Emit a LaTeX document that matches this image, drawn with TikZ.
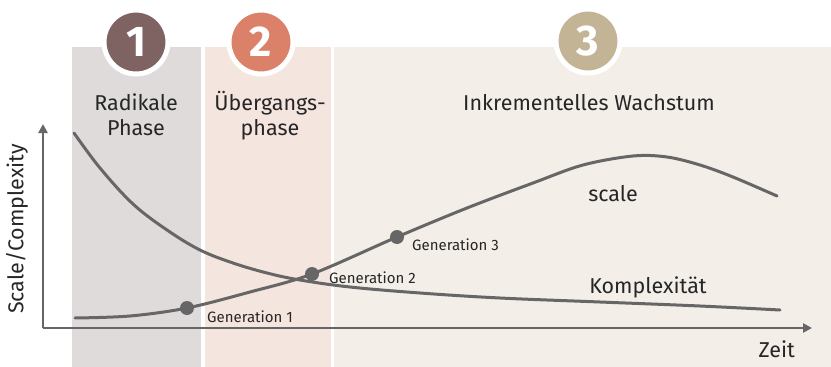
\documentclass[tikz,border=0pt]{standalone}
\usepackage{fontspec}
\setmainfont{Fira Sans}
\usetikzlibrary{arrows.meta}
\definecolor{bandA}{HTML}{E0DBDB}
\definecolor{bandB}{HTML}{F5E5DF}
\definecolor{bandC}{HTML}{F3EEE7}
\definecolor{circA}{HTML}{7F6262}
\definecolor{circB}{HTML}{DB816A}
\definecolor{circC}{HTML}{C4B496}
\definecolor{lineg}{HTML}{666666}
\definecolor{txt}{HTML}{262626}
\tikzset{
  numcirc/.style={circle, minimum size=64pt, inner sep=0pt, draw=white, line width=5pt, text=white, font=\fontsize{43}{43}\selectfont\bfseries},
  head/.style={text=txt, font=\fontsize{21.5}{25}\selectfont, align=center, inner sep=0pt},
  lbl/.style={text=txt, font=\fontsize{21.5}{24}\selectfont, inner sep=0pt},
  genlbl/.style={text=txt, font=\fontsize{15}{17}\selectfont, inner sep=0pt, anchor=west},
  curve/.style={draw=lineg, line width=3pt, line cap=round},
  axis/.style={draw=lineg, line width=2.6pt, -{Triangle[length=9pt,width=9pt]}},
  dot/.style={circle, fill=lineg, minimum size=14pt, inner sep=0pt}
}
\begin{document}
\begin{tikzpicture}[x=1pt,y=-1pt]
\useasboundingbox (0,0) rectangle (831,367);
% bands
\fill[bandA] (72,47) rectangle (201,367);
\fill[bandB] (205,47) rectangle (331,367);
\fill[bandC] (334,47) rectangle (831,367);
% number circles
\node[numcirc, fill=circA] (c1) at (136,42) {1};
\node[numcirc, fill=circB] (c2) at (261,42) {2};
\node[numcirc, fill=circC] (c3) at (588,41) {3};
% headings
\node[head] (h1) at (136,115) {Radikale\\Phase};
\node[head] (h2) at (270,116) {Übergangs-\\phase};
\node[head] (h3) at (589,103) {Inkrementelles Wachstum};
% axes
\coordinate (o) at (43,328);
\coordinate (ytop) at (43,124);
\coordinate (xend) at (812,328);
\draw[axis] (o) -- (ytop);
\draw[axis] (o) -- (xend);
\node[lbl, rotate=90] (ylab) at (17,229) {Scale/Complexity};
\node[lbl, anchor=east] (xlab) at (795,349) {Zeit};
% complexity curve
\draw[curve] plot[smooth, tension=0.6] coordinates {(74,133) (100,168) (133,204) (167,230) (200,250) (233,263) (267,273) (300,280) (350,287) (420,293) (500,298) (600,302) (700,306) (780,310)};
% scale curve
\draw[curve] plot[smooth, tension=0.55] coordinates {(75,318) (130,316) (187,308) (250,292) (312,274) (397,237) (467,208) (533,183) (583,165) (633,156) (667,157) (700,165) (733,177) (777,196)};
% dots
\node[dot] (g1) at (187,308) {};
\node[dot] (g2) at (312,274) {};
\node[dot] (g3) at (397,237) {};
\node[genlbl] (t1) at (207,317) {Generation 1};
\node[genlbl] (t2) at (329,278) {Generation 2};
\node[genlbl] (t3) at (412,245) {Generation 3};
\node[lbl] (sc) at (613,194) {scale};
\node[lbl] (ko) at (648,287) {Komplexität};
\end{tikzpicture}
\end{document}
